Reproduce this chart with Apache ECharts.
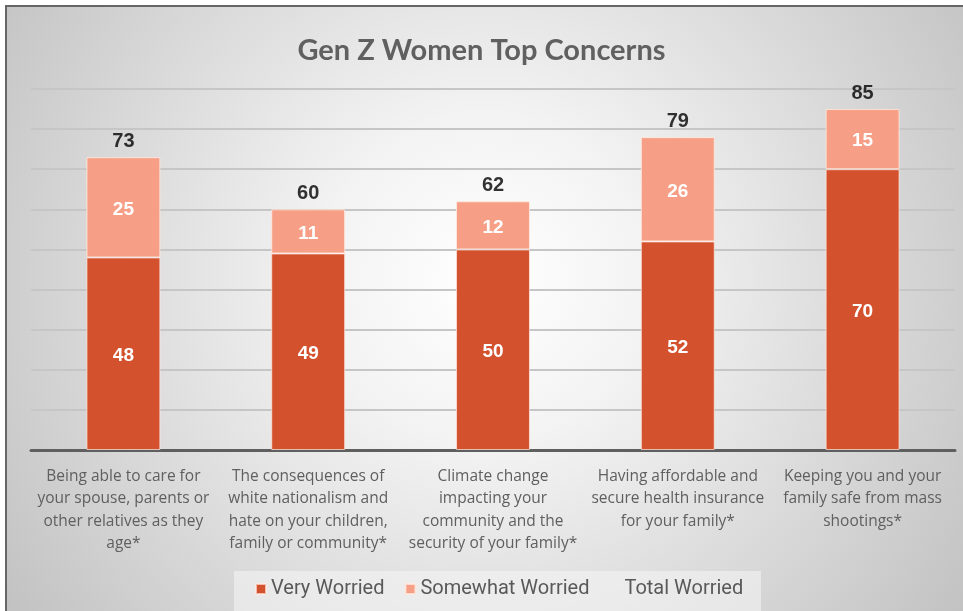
<!DOCTYPE html>
<html><head><meta charset="utf-8">
<script src="https://cdn.jsdelivr.net/npm/echarts@6/dist/echarts.min.js"></script>
<style>
html,body{margin:0;padding:0;background:#fff;}
#bg{position:absolute;left:5px;top:5px;width:958px;height:606px;box-sizing:border-box;border-left:2px solid #666;border-top:2px solid #666;
background:radial-gradient(circle at 50% 45%, #ffffff 0%, #f3f3f3 28%, #c2c2c2 100%);}
#legbox{position:absolute;left:234px;top:571px;width:527px;height:40px;background:rgba(245,245,245,0.55);}
#c{position:absolute;left:0;top:0;width:963px;height:611px;}
</style></head>
<body>
<div id="bg"></div><div id="legbox"></div>
<div id="c"></div>
<script>
const categories = [
  "Being able to care for\nyour spouse, parents or\nother relatives as they\nage*",
  "The consequences of\nwhite nationalism and\nhate on your children,\nfamily or community*",
  "Climate change\nimpacting your\ncommunity and the\nsecurity of your family*",
  "Having affordable and\nsecure health insurance\nfor your family*",
  "Keeping you and your\nfamily safe from mass\nshootings*"
];
const veryWorried = [48, 49, 50, 52, 70];
const somewhatWorried = [25, 11, 12, 26, 15];
const totalWorried = [73, 60, 62, 79, 85];
const totalPos = [73, 60, 62, 78, 85];

const chart = echarts.init(document.getElementById('c'));
const inner = {show:true, position:'inside', color:'#fff', fontFamily:'Liberation Sans, Arial', fontWeight:'bold', fontSize:19, offset:[0,2]};
chart.setOption({
  backgroundColor:'transparent',
  animation:false,
  title:{text:'Gen Z Women Top Concerns', left:'center', top:31,
    textStyle:{fontFamily:'Lato', fontWeight:'bold', fontSize:29, color:'#606060'}},
  legend:{top:574, left:250, itemGap:20, itemWidth:10, itemHeight:10,
    textStyle:{fontFamily:'Roboto', fontSize:20, color:'#595959'},
    data:[{name:'Very Worried', icon:'rect'},{name:'Somewhat Worried', icon:'rect'},{name:'Total Worried', icon:'none', itemStyle:{color:'rgba(0,0,0,0)'}}]},
  grid:{left:31, right:8, top:89, bottom:161},
  xAxis:{type:'category', data:categories,
    axisLine:{lineStyle:{color:'#5f5f5f', width:3}}, axisTick:{show:false},
    axisLabel:{interval:0, margin:15, lineHeight:22.5, fontFamily:'Open Sans', fontSize:15.5, color:'#5f5f5f', align:'center'}},
  yAxis:{type:'value', min:0, max:90, interval:10, axisLabel:{show:false}, axisLine:{show:false}, axisTick:{show:false},
    splitLine:{lineStyle:{color:'#c6c6c6', width:2}}},
  series:[
    {name:'Very Worried', type:'bar', stack:'s', data:veryWorried, barWidth:'40%',
      itemStyle:{color:'#D4512E', borderColor:'rgba(255,235,225,0.7)', borderWidth:1}, label:inner},
    {name:'Somewhat Worried', type:'bar', stack:'s', data:somewhatWorried,
      itemStyle:{color:'#F79F86', borderColor:'rgba(255,235,225,0.8)', borderWidth:1}, label:inner},
    {name:'Total Worried', type:'scatter', symbolSize:1, itemStyle:{color:'rgba(0,0,0,0)'},
      data:totalPos.map((v,i)=>({value:v, label:{formatter:String(totalWorried[i])}})),
      label:{show:true, position:'top', distance:5, color:'#000', fontFamily:'Liberation Sans, Arial', fontWeight:'bold', fontSize:20}}
  ]
});
</script>
</body></html>
